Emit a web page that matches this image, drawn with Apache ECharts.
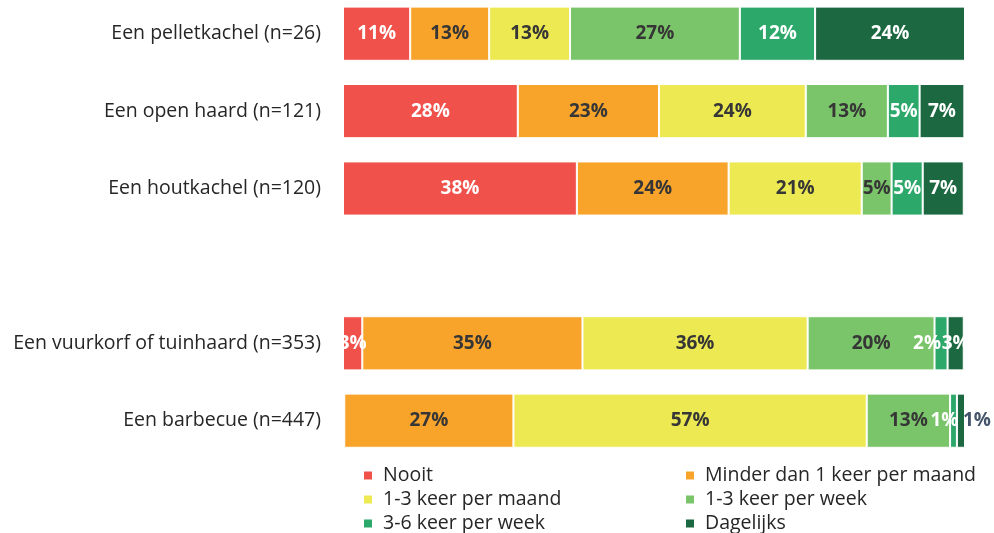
<!DOCTYPE html>
<html>
<head>
<meta charset="utf-8">
<script src="https://cdn.jsdelivr.net/npm/echarts@6/dist/echarts.min.js"></script>
<style>html,body{margin:0;padding:0;background:#fff;overflow:hidden}#c{width:994px;height:538px;margin-top:-5px}</style>
</head>
<body>
<div id="c"></div>
<script>
const categories = ['Een pelletkachel (n=26)', 'Een open haard (n=121)', 'Een houtkachel (n=120)', '', 'Een vuurkorf of tuinhaard (n=353)', 'Een barbecue (n=447)'];
const seriesNames = ['Nooit', 'Minder dan 1 keer per maand', '1-3 keer per maand', '1-3 keer per week', '3-6 keer per week', 'Dagelijks'];
const nooit   = [10.8, 28.1, 37.6, null, 3.1, 0.2];
const minder  = [12.7, 22.7, 24.4, null, 35.4, 27.2];
const maand13 = [13.0, 23.6, 21.4, null, 36.2, 56.8];
const week13  = [27.3, 13.2, 4.8, null, 20.4, 13.4];
const week36  = [12.1, 5.1, 5.0, null, 2.1, 1.1];
const dagelijks = [24.1, 7.2, 6.6, null, 2.6, 1.3];

const values = [nooit, minder, maand13, week13, week36, dagelijks];
const colors = ['#F0524B', '#F8A42B', '#EDE952', '#7AC46A', '#2DA86B', '#1C6840'];
const labelColors = ['#ffffff', '#363636', '#363636', '#363636', '#ffffff', '#ffffff'];
const FONT = 'Open Sans';

// label nudges for crowded small segments [seriesIndex, rowIndex, dx, colour]
const nudges = [[4, 4, -14, null], [4, 5, -9, null], [5, 5, 16, '#44546A']];

const chart = echarts.init(document.getElementById('c'));
const series = seriesNames.map((name, i) => ({
  name: name,
  type: 'bar',
  stack: 'total',
  barWidth: '70%',
  itemStyle: { color: colors[i], borderColor: '#ffffff', borderWidth: 1 },
  label: {
    show: true,
    position: 'inside',
    fontFamily: FONT,
    fontWeight: 'bold',
    fontSize: 19,
    color: labelColors[i],
    formatter: p => (p.value != null && p.value >= 0.5) ? Math.round(p.value) + '%' : ''
  },
  data: values[i].map((v, j) => {
    const n = nudges.find(a => a[0] === i && a[1] === j);
    if (n) {
      const lab = { offset: [n[2], 0] };
      if (n[3]) lab.color = n[3];
      return { value: v, label: lab };
    }
    return v;
  })
}));

const legendText = { fontFamily: FONT, fontSize: 19.5, lineHeight: 19, color: '#262626', padding: [0, 0, 0, 5] };

chart.setOption({
  animation: false,
  grid: { left: 343, right: 29, top: 0, bottom: 73.6, containLabel: false },
  xAxis: { type: 'value', min: 0, max: 100, show: false },
  yAxis: {
    type: 'category', data: categories, inverse: true,
    axisLine: { show: false }, axisTick: { show: false },
    axisLabel: { margin: 22, fontFamily: FONT, fontSize: 19.5, color: '#262626' }
  },
  legend: [
    {
      orient: 'vertical', left: 362, top: 470.5, width: 300, height: 90, padding: 0, itemWidth: 10, itemHeight: 10, itemGap: 4,
      icon: 'rect', selectedMode: false, textStyle: legendText,
      data: ['Nooit', '1-3 keer per maand', '3-6 keer per week']
    },
    {
      orient: 'vertical', left: 684, top: 470.5, width: 300, height: 90, padding: 0, itemWidth: 10, itemHeight: 10, itemGap: 4,
      icon: 'rect', selectedMode: false, textStyle: legendText,
      data: ['Minder dan 1 keer per maand', '1-3 keer per week', 'Dagelijks']
    }
  ],
  series: series
});
</script>
</body>
</html>
